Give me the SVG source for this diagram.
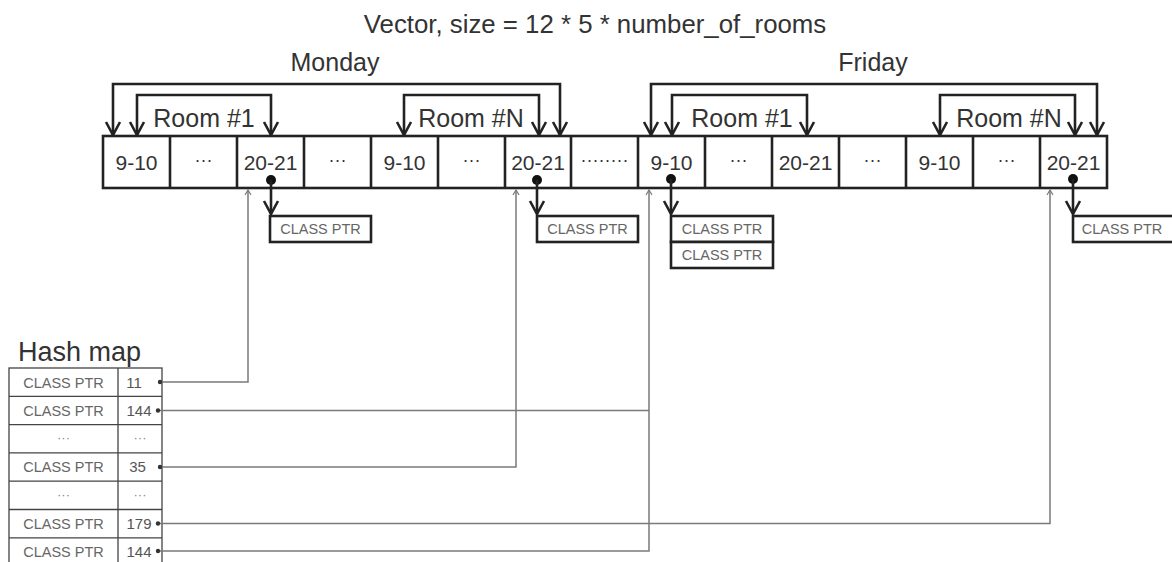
<svg xmlns="http://www.w3.org/2000/svg" width="1172" height="562" viewBox="0 0 1172 562">
<style>
text{font-family:"Liberation Sans",Arial,sans-serif;fill:#333}
.big{font-size:25px}
.cell{font-size:21px;text-anchor:middle}
.dots{font-size:18px;text-anchor:middle}
.ptr{font-size:14.5px;fill:#666;text-anchor:middle}
.num{font-size:15px;fill:#555;text-anchor:middle}
.hd{font-size:13px;fill:#888;text-anchor:middle}
.thick{fill:none;stroke:#222;stroke-width:2.6}
.box{fill:#fff;stroke:#222;stroke-width:2.6}
.thin{fill:none;stroke:#7a7a7a;stroke-width:1.5}
.tbl{fill:#fff;stroke:#444;stroke-width:1.3}
</style>
<defs>
<marker id="chev" viewBox="-15 -9 17 18" markerWidth="17" markerHeight="18" refX="0" refY="0" orient="auto" markerUnits="userSpaceOnUse">
<path d="M-13,-7 L0,0 L-13,7" fill="none" stroke="#222" stroke-width="2.6"/>
</marker>
<marker id="dn" viewBox="-15 -9 17 18" markerWidth="17" markerHeight="18" refX="0" refY="0" orient="auto-start-reverse" markerUnits="userSpaceOnUse">
<path d="M-13,-7 L0,0 L-13,7" fill="none" stroke="#222" stroke-width="2.6"/>
</marker>
<marker id="sm" viewBox="-7 -5 9 10" markerWidth="9" markerHeight="10" refX="0" refY="0" orient="auto" markerUnits="userSpaceOnUse">
<path d="M-5,-3 L0,0 L-5,3" fill="none" stroke="#7a7a7a" stroke-width="1.2"/>
</marker>
</defs>

<g id="title">
<text class="big" x="595" y="33" text-anchor="middle" style="font-size:25.8px">Vector, size = 12 * 5 * number_of_rooms</text>
<text class="big" x="335" y="71" text-anchor="middle">Monday</text>
<text class="big" x="873" y="71" text-anchor="middle">Friday</text>
<text class="big" x="204" y="127" text-anchor="middle">Room #1</text>
<text class="big" x="471" y="127" text-anchor="middle">Room #N</text>
<text class="big" x="742" y="127" text-anchor="middle">Room #1</text>
<text class="big" x="1009" y="127" text-anchor="middle">Room #N</text>
</g>

<g id="vector">
<rect class="thick" x="103" y="136" width="1004" height="52"/>
<path class="thick" d="M170,136V188M237,136V188M304,136V188M371,136V188M438,136V188M505,136V188M571,136V188M638,136V188M705,136V188M772,136V188M839,136V188M906,136V188M973,136V188M1040,136V188"/>
<text class="cell" x="136.5" y="170">9-10</text>
<text class="dots" x="203.5" y="166">···</text>
<text class="cell" x="270.5" y="170">20-21</text>
<text class="dots" x="337.5" y="166">···</text>
<text class="cell" x="404.5" y="170">9-10</text>
<text class="dots" x="471.5" y="166">···</text>
<text class="cell" x="538" y="170">20-21</text>
<text class="dots" x="604.5" y="166">········</text>
<text class="cell" x="671.5" y="170">9-10</text>
<text class="dots" x="738.5" y="166">···</text>
<text class="cell" x="805.5" y="170">20-21</text>
<text class="dots" x="872.5" y="166">···</text>
<text class="cell" x="939.5" y="170">9-10</text>
<text class="dots" x="1006.5" y="166">···</text>
<text class="cell" x="1073.5" y="170">20-21</text>
</g>

<g id="ptr-mon-1">
<rect class="box" x="270" y="216" width="101" height="26"/>
<text class="ptr" x="320.5" y="234">CLASS PTR</text>
</g>
<g id="ptr-mon-n">
<rect class="box" x="537" y="216" width="101" height="26"/>
<text class="ptr" x="587.5" y="234">CLASS PTR</text>
</g>
<g id="ptr-fri-1">
<rect class="box" x="671" y="216" width="102" height="26"/>
<text class="ptr" x="722" y="234">CLASS PTR</text>
<rect class="box" x="671" y="242" width="102" height="26"/>
<text class="ptr" x="722" y="260">CLASS PTR</text>
</g>
<g id="ptr-fri-n">
<rect class="box" x="1073" y="216" width="102" height="26"/>
<text class="ptr" x="1122" y="234">CLASS PTR</text>
</g>

<g id="hashmap">
<text class="big" x="18" y="361" style="font-size:27px">Hash map</text>
<rect class="tbl" x="9" y="368" width="153" height="200"/>
<path class="tbl" d="M118,368V568M9,396.3H162M9,424.6H162M9,452.9H162M9,481.2H162M9,509.5H162M9,537.8H162"/>
<text class="ptr" x="63.5" y="387.5">CLASS PTR</text>
<text class="ptr" x="63.5" y="415.5">CLASS PTR</text>
<text class="hd" x="63.5" y="442">···</text>
<text class="ptr" x="63.5" y="472">CLASS PTR</text>
<text class="hd" x="63.5" y="499">···</text>
<text class="ptr" x="63.5" y="528.5">CLASS PTR</text>
<text class="ptr" x="63.5" y="556.5">CLASS PTR</text>
<text class="num" x="134" y="388">11</text>
<text class="num" x="139" y="416">144</text>
<text class="hd" x="140" y="442">···</text>
<text class="num" x="137.5" y="472">35</text>
<text class="hd" x="140" y="499">···</text>
<text class="num" x="139" y="529">179</text>
<text class="num" x="139" y="557">144</text>
</g>

<g id="connectors">
<path class="thick" d="M113,135V84H560V135" marker-start="url(#dn)" marker-end="url(#chev)"/>
<path class="thick" d="M137,135V95H271V135" marker-start="url(#dn)" marker-end="url(#chev)"/>
<path class="thick" d="M404,135V95H539V135" marker-start="url(#dn)" marker-end="url(#chev)"/>
<path class="thick" d="M651,135V84H1097V135" marker-start="url(#dn)" marker-end="url(#chev)"/>
<path class="thick" d="M672,135V95H807V135" marker-start="url(#dn)" marker-end="url(#chev)"/>
<path class="thick" d="M940,135V95H1075V135" marker-start="url(#dn)" marker-end="url(#chev)"/>
<circle cx="271" cy="180" r="5" fill="#111"/>
<path class="thick" d="M271,180V214" marker-end="url(#chev)"/>
<circle cx="537" cy="180" r="5" fill="#111"/>
<path class="thick" d="M537,180V214" marker-end="url(#chev)"/>
<circle cx="671" cy="179" r="5" fill="#111"/>
<path class="thick" d="M671,179V214" marker-end="url(#chev)"/>
<circle cx="1073" cy="179" r="5" fill="#111"/>
<path class="thick" d="M1073,179V214" marker-end="url(#chev)"/>
<path class="thin" d="M160,382H248V190" marker-end="url(#sm)"/>
<path class="thin" d="M160,410.5H649"/>
<path class="thin" d="M160,467H516V190" marker-end="url(#sm)"/>
<path class="thin" d="M160,523.5H1050V190" marker-end="url(#sm)"/>
<path class="thin" d="M160,551H649V190" marker-end="url(#sm)"/>
<circle cx="160" cy="382" r="2.2" fill="#333"/>
<circle cx="158" cy="410.5" r="2.2" fill="#333"/>
<circle cx="160" cy="467" r="2.2" fill="#333"/>
<circle cx="158" cy="523.5" r="2.2" fill="#333"/>
<circle cx="158" cy="551" r="2.2" fill="#333"/>
</g>
</svg>
